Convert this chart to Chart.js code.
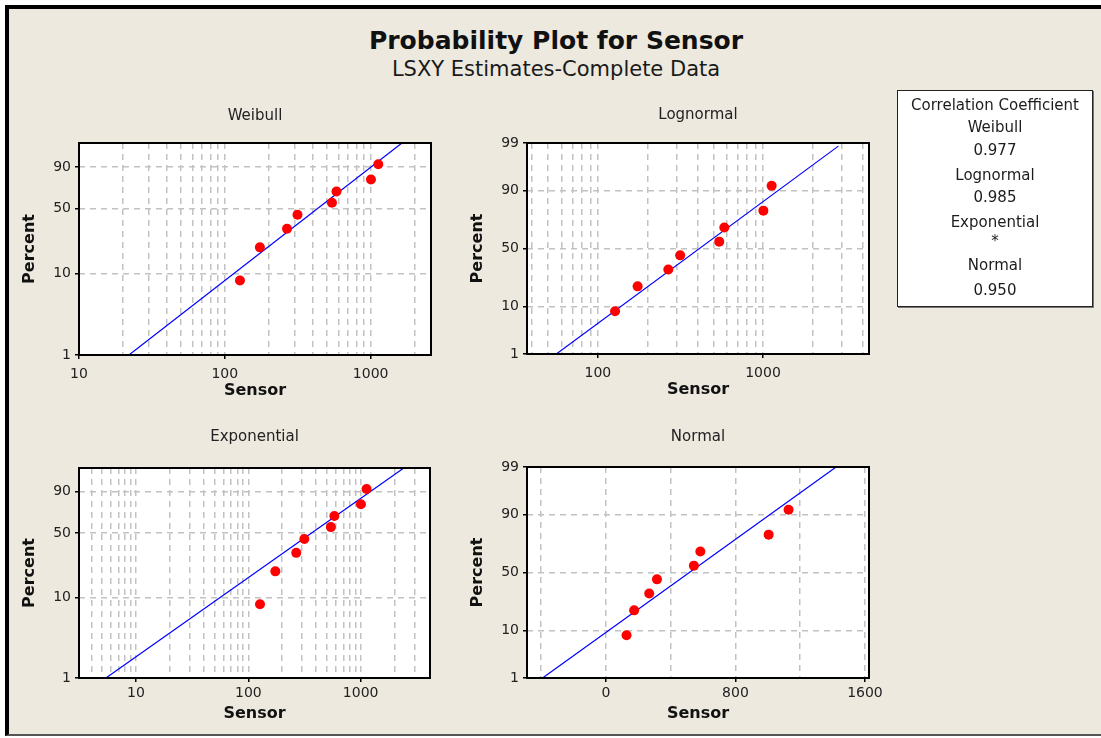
<!DOCTYPE html>
<html>
<head>
<meta charset="utf-8">
<script src="https://cdn.jsdelivr.net/npm/chart.js@4.4.0/dist/chart.umd.min.js"></script>
<style>
  html, body { margin: 0; padding: 0; background: #fff; }
  body { width: 1101px; height: 738px; position: relative; overflow: hidden; font-family: "DejaVu Sans", sans-serif; color: #1c1c1c; }
  #frame { position: absolute; left: 5px; top: 5px; width: 1092px; height: 725px; background: #ede9df;
           border-top: 4px solid #000; border-left: 4px solid #000; border-bottom: 2px solid #555; }
  .title { position: absolute; left: 0; width: 1112px; text-align: center; white-space: nowrap; }
  #main { top: 26px; font-size: 25px; line-height: 30px; font-weight: bold; color: #111; }
  #sub { top: 57px; font-size: 21px; line-height: 24px; color: #1a1a1a; }
  canvas { position: absolute; }
  #cc { position: absolute; left: 897px; top: 90px; width: 194px; height: 215px; background: #fff;
        border: 1px solid #222; box-shadow: 1px 1px 0 #777; }
  #cc div { position: absolute; left: 0; width: 194px; text-align: center; font-size: 15px; line-height: 20px; color: #1c1c1c; white-space: nowrap; }
</style>
</head>
<body>
<div id="frame"></div>
<div class="title" id="main">Probability Plot for Sensor</div>
<div class="title" id="sub">LSXY Estimates-Complete Data</div>

<canvas id="weibull" width="420" height="300" style="left:20px;top:100px"></canvas>
<canvas id="lognormal" width="432" height="299" style="left:468px;top:100px"></canvas>
<canvas id="exponential" width="420" height="298" style="left:20px;top:425px"></canvas>
<canvas id="normal" width="432" height="299" style="left:468px;top:424px"></canvas>

<div id="cc"></div>

<script>
// data
const sensor = [127, 174, 267, 315, 543, 583, 1005, 1128];
const percent = [8.3, 20.2, 32.1, 44.0, 56.0, 67.9, 79.8, 91.7];

// fitted lines (end points, sensor / percent)
const weibullFitX = [22, 1640];
const weibullFitP = [1, 99];
const lognormalFitX = [56, 2860];
const lognormalFitP = [1, 98.8];
const exponentialFitX = [5.4, 2420];
const exponentialFitP = [1, 99];
const normalFitX = [-392, 1422];
const normalFitP = [1, 99];

// tick labels
const weibullXTicks = [10, 100, 1000];
const lognormalXTicks = [100, 1000];
const exponentialXTicks = [10, 100, 1000];
const normalXTicks = [0, 800, 1600];
const normalXGrid = [-400, 0, 400, 800, 1200, 1600];
const shortYTicks = [1, 10, 50, 90];
const fullYTicks = [1, 10, 50, 90, 99];

// correlation box
const corrNames = ["Weibull", "Lognormal", "Exponential", "Normal"];
const corrValues = ["0.977", "0.985", "*", "0.950"];

// inverse normal cdf (Acklam)
function probit(p) {
  const a = [-39.69683028665376, 220.9460984245205, -275.9285104469687, 138.3577518672690, -30.66479806614716, 2.506628277459239];
  const b = [-54.47609879822406, 161.5858368580409, -155.6989798598866, 66.80131188771972, -13.28068155288572];
  const c = [-0.007784894002430293, -0.3223964580411365, -2.400758277161838, -2.549732539343734, 4.374664141464968, 2.938163982698783];
  const d = [0.007784695709041462, 0.3224671290700398, 2.445134137142996, 3.754408661907416];
  const pl = 0.02425;
  let q, r;
  if (p < pl) {
    q = Math.sqrt(-2 * Math.log(p));
    return (((((c[0]*q+c[1])*q+c[2])*q+c[3])*q+c[4])*q+c[5]) / ((((d[0]*q+d[1])*q+d[2])*q+d[3])*q+1);
  }
  if (p > 1 - pl) {
    q = Math.sqrt(-2 * Math.log(1 - p));
    return -(((((c[0]*q+c[1])*q+c[2])*q+c[3])*q+c[4])*q+c[5]) / ((((d[0]*q+d[1])*q+d[2])*q+d[3])*q+1);
  }
  q = p - 0.5; r = q * q;
  return (((((a[0]*r+a[1])*r+a[2])*r+a[3])*r+a[4])*r+a[5])*q / (((((b[0]*r+b[1])*r+b[2])*r+b[3])*r+b[4])*r+1);
}
const weibullY = p => Math.log(-Math.log(1 - p / 100));
const normalY = p => probit(p / 100);

// 1..9 x 10^k grid lines between lo and hi
function logGrid(lo, hi) {
  const out = [];
  for (let k = 0; k < 5; k++) {
    for (let m = 1; m < 10; m++) {
      const v = m * Math.pow(10, k);
      if (v >= lo && v <= hi) out.push(v);
    }
  }
  return out;
}

Chart.defaults.font.family = "'DejaVu Sans', sans-serif";

const plotFrame = {
  id: "plotFrame",
  beforeDraw(chart) {
    const { ctx, chartArea: a } = chart;
    ctx.save();
    ctx.fillStyle = "#fff";
    ctx.fillRect(a.left, a.top, a.width, a.height);
    ctx.restore();
  },
  afterDraw(chart) {
    const { ctx, chartArea: a } = chart;
    ctx.save();
    ctx.strokeStyle = "#000";
    ctx.lineWidth = 2;
    ctx.strokeRect(a.left, a.top, a.width, a.height);
    ctx.restore();
  }
};

function gridOpts() {
  return {
    color: "#c2c2c2",
    lineWidth: 1.5,
    drawTicks: true,
    tickLength: 4,
    tickWidth: 1.5,
    tickColor: c => (c.tick && c.tick.label !== "") ? "#000" : "rgba(0,0,0,0)"
  };
}

function panel(id, cfg) {
  const tf = cfg.yScale;
  new Chart(document.getElementById(id), {
    type: "scatter",
    data: {
      datasets: [
        {
          data: sensor.map((x, i) => ({ x: x, y: tf(percent[i]) })),
          backgroundColor: "#ff0000",
          borderWidth: 0,
          pointRadius: 5,
          pointHoverRadius: 5
        },
        {
          data: cfg.fitX.map((x, i) => ({ x: x, y: tf(cfg.fitP[i]) })),
          showLine: true,
          borderColor: "#0000ff",
          borderWidth: 1.2,
          pointRadius: 0,
          fill: false
        }
      ]
    },
    options: {
      responsive: false,
      animation: false,
      devicePixelRatio: 1,
      events: [],
      layout: { padding: { top: 0, right: cfg.padRight, bottom: 0, left: 0 } },
      plugins: {
        legend: { display: false },
        tooltip: { enabled: false },
        title: {
          display: true,
          fullSize: false,
          text: cfg.title,
          color: "#222",
          font: { size: 15, weight: "normal" },
          padding: { top: cfg.titleTop, bottom: 25 - cfg.titleTop }
        }
      },
      scales: {
        x: {
          type: cfg.xType,
          min: cfg.xMin,
          max: cfg.xMax,
          bounds: "data",
          afterBuildTicks: s => { s.ticks = cfg.xGrid.map(v => ({ value: v })); },
          afterFit: s => { s.height = 45; },
          ticks: {
            autoSkip: false, maxRotation: 0, minRotation: 0,
            padding: cfg.xPad, color: "#222", font: { size: 14 },
            callback: v => cfg.xTicks.includes(v) ? String(v) : ""
          },
          grid: gridOpts(),
          border: { display: false, dash: [6, 5] },
          title: { display: true, text: "Sensor", color: "#111", font: { size: 16, weight: "bold" }, padding: 0 }
        },
        y: {
          type: "linear",
          min: tf(1),
          max: tf(99),
          bounds: "data",
          afterBuildTicks: s => { s.ticks = cfg.yTicks.map(p => ({ value: tf(p) })); },
          afterFit: s => { s.width = 59; },
          ticks: {
            autoSkip: false, padding: 4, color: "#222", font: { size: 14 },
            callback: (v, i) => String(cfg.yTicks[i])
          },
          grid: gridOpts(),
          border: { display: false, dash: [6, 5] },
          title: { display: true, text: "Percent", color: "#111", font: { size: 16, weight: "bold" }, padding: 0 }
        }
      }
    },
    plugins: [plotFrame]
  });
}

panel("weibull", {
  title: "Weibull", titleTop: 6.7, padRight: 9, xPad: 7,
  xType: "logarithmic", xMin: 10, xMax: 2594, xGrid: logGrid(10, 2000), xTicks: weibullXTicks,
  yScale: weibullY, yTicks: shortYTicks, fitX: weibullFitX, fitP: weibullFitP
});
panel("lognormal", {
  title: "Lognormal", titleTop: 6.5, padRight: 31, xPad: 7,
  xType: "logarithmic", xMin: 37.2, xMax: 4385, xGrid: logGrid(40, 4000), xTicks: lognormalXTicks,
  yScale: normalY, yTicks: fullYTicks, fitX: lognormalFitX, fitP: lognormalFitP
});
panel("exponential", {
  title: "Exponential", titleTop: 3, padRight: 10, xPad: 3,
  xType: "logarithmic", xMin: 3.11, xMax: 4140, xGrid: logGrid(4, 3000), xTicks: exponentialXTicks,
  yScale: weibullY, yTicks: shortYTicks, fitX: exponentialFitX, fitP: exponentialFitP
});
panel("normal", {
  title: "Normal", titleTop: 4, padRight: 31, xPad: 3,
  xType: "linear", xMin: -488, xMax: 1625, xGrid: normalXGrid, xTicks: normalXTicks,
  yScale: normalY, yTicks: fullYTicks, fitX: normalFitX, fitP: normalFitP
});

// correlation coefficient box
const cc = document.getElementById("cc");
const ccLines = ["Correlation Coefficient"];
corrNames.forEach((n, i) => { ccLines.push(n); ccLines.push(corrValues[i]); });
const ccTops = [4, 26, 49, 74, 96, 121, 140, 164, 189];
ccLines.forEach((t, i) => {
  const el = document.createElement("div");
  el.textContent = t;
  el.style.top = ccTops[i] + "px";
  cc.appendChild(el);
});
</script>
</body>
</html>
